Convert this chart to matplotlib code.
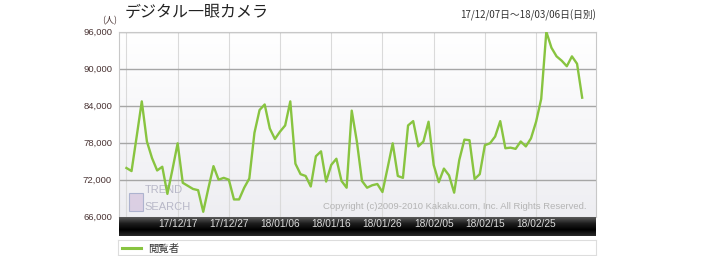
import matplotlib
matplotlib.use('Agg')
import matplotlib.pyplot as plt
import numpy as np
from matplotlib.colors import LinearSegmentedColormap
from matplotlib.patches import Rectangle

# daily viewers, 17/12/07 .. 18/03/06
viewers = [73900, 73400, 79000, 84700, 78200, 75500, 73500, 74100, 69700, 73700,
           77900, 71500, 71000, 70500, 70300, 66800, 70600, 74200, 72000, 72300,
           72000, 68800, 68800, 70700, 72200, 79600, 83300, 84200, 80300, 78600,
           79800, 80800, 84700, 74600, 72900, 72600, 70900, 75800, 76600, 71700,
           74400, 75400, 71800, 70700, 83200, 78200, 71800, 70700, 71100, 71300,
           70000, 73900, 77900, 72600, 72300, 80800, 81500, 77400, 78200, 81400,
           74400, 71600, 73800, 72700, 69900, 75200, 78500, 78400, 72100, 72900,
           77600, 77900, 79000, 81500, 77100, 77200, 77000, 78200, 77400, 78700,
           81400, 85100, 96000, 93400, 92000, 91300, 90400, 92000, 90800, 85300]
tick_days = [10, 20, 30, 40, 50, 60, 70, 80]
tick_labels = ['17/12/17', '17/12/27', '18/01/06', '18/01/16',
               '18/01/26', '18/02/05', '18/02/15', '18/02/25']
y_ticks = [66000, 72000, 78000, 84000, 90000, 96000]
title = 'デジタル一眼カメラ'
period = '17/12/07日～18/03/06日(日別)'
series_name = '閲覧者'

W, H = 715, 256
fig = plt.figure(figsize=(W / 100, H / 100), dpi=100)
fig.patch.set_facecolor('white')

def box(x0, y0, x1, y1):
    # pixel box -> figure fraction
    return [x0 / W, 1 - y1 / H, (x1 - x0) / W, (y1 - y0) / H]

cjk = ['Noto Sans CJK JP', 'DejaVu Sans']
sans = ['Liberation Sans', 'DejaVu Sans']

# main plot
ax = fig.add_axes(box(119, 31.7, 596, 216.7))
days = np.arange(len(viewers))
xlim = (-1.45, 91.7)

grad = np.linspace(0, 1, 100).reshape(-1, 1)
bg = LinearSegmentedColormap.from_list('bg', ['#ffffff', '#eeeef2'])
ax.imshow(grad, aspect='auto', cmap=bg, extent=[0, 1, 0, 1],
          transform=ax.transAxes, zorder=0)
ax.set_xlim(*xlim)
ax.set_ylim(66000, 96000)

for d in range(0, 90, 10):
    ax.axvline(d, color='#dadada', lw=0.8, zorder=1)
for v in y_ticks[1:]:
    ax.axhline(v, color='#a6a6a6', lw=1.0, zorder=1)

ax.plot(days, viewers, color='#88c440', lw=1.7, zorder=3,
        solid_joinstyle='round')

ax.set_xticks([])
ax.set_yticks(y_ticks)
ax.set_yticklabels([f'{v:,}' for v in y_ticks], fontsize=6.8,
                   family=sans, color='#4a3434')
ax.tick_params(axis='y', length=0, pad=5)
for s in ax.spines.values():
    s.set_color('#c8c8c8')
    s.set_linewidth(0.8)

# watermark and copyright
ax.add_patch(Rectangle((0.02, 0.03), 0.03, 0.1, transform=ax.transAxes,
                       facecolor='#d6c8e0', edgecolor='#a0a8c8', lw=0.8,
                       alpha=0.8, zorder=2))
ax.text(0.054, 0.145, 'TREND', transform=ax.transAxes, fontsize=8,
        color='#b8b8c8', family=sans, va='center', zorder=2)
ax.text(0.054, 0.055, 'SEARCH', transform=ax.transAxes, fontsize=8,
        color='#b8b8c8', family=sans, va='center', zorder=2)
ax.text(0.98, 0.03, 'Copyright (c)2009-2010 Kakaku.com, Inc. All Rights Reserved.',
        transform=ax.transAxes, ha='right', va='bottom', fontsize=6.8,
        color='#b4b4b4', family=sans, zorder=2)

# dark date band
band = fig.add_axes(box(119, 216.7, 596, 235.7))
dark = LinearSegmentedColormap.from_list('dk', ['#5a5a5a', '#1e1e1e', '#000000', '#2a2a2a'])
band.imshow(grad, aspect='auto', cmap=dark, extent=[0, 1, 0, 1],
            transform=band.transAxes)
band.set_xlim(*xlim)
band.set_ylim(0, 1)
band.set_xticks([])
band.set_yticks([])
for s in band.spines.values():
    s.set_visible(False)
for d, lab in zip(tick_days, tick_labels):
    band.text(d, 0.6, lab, ha='center', va='center', fontsize=7.3,
              color='#dcdcdc', family=sans)

# legend strip
leg = fig.add_axes(box(118.3, 240, 595.7, 255.3))
leg.set_xlim(0, 1)
leg.set_ylim(0, 1)
leg.set_xticks([])
leg.set_yticks([])
for s in leg.spines.values():
    s.set_color('#dddddd')
    s.set_linewidth(0.8)
leg.plot([0.008, 0.047], [0.5, 0.5], color='#88c440', lw=2.2)
leg.text(0.063, 0.45, series_name, fontsize=7.5, family=cjk,
         va='center', ha='left', color='#333333')

# header texts
fig.text(125 / W, 1 - 12 / H, title, fontsize=11.5, family=cjk,
         va='center', ha='left', color='#222222')
fig.text(596 / W, 1 - 15 / H, period, fontsize=7, family=cjk,
         va='center', ha='right', color='#333333')
fig.text(110 / W, 1 - 21 / H, '(人)', fontsize=6.5, family=cjk,
         va='center', ha='center', color='#4a3434')

fig.savefig('out.png', dpi=100)
